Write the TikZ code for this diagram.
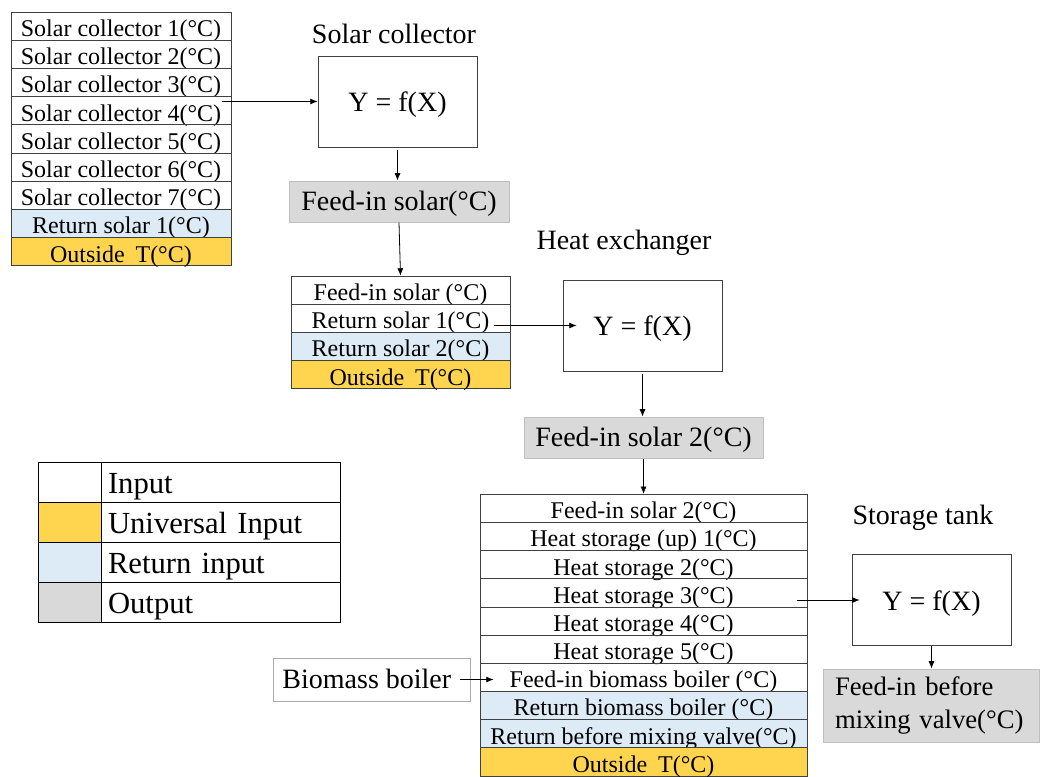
\documentclass[tikz,border=0pt]{standalone}
\usepackage{fontspec}
\setmainfont{Liberation Serif}
\usetikzlibrary{arrows.meta,calc}
\definecolor{uniY}{RGB}{255,213,79}
\definecolor{retB}{RGB}{221,235,247}
\definecolor{outG}{RGB}{217,217,217}
\definecolor{outBd}{RGB}{191,191,191}
\definecolor{bioBd}{RGB}{170,170,170}
\definecolor{lineC}{RGB}{64,64,64}
\newcommand{\tabfont}{\fontsize{18}{20}\selectfont}
\newcommand{\bigfont}{\fontsize{21}{22.5}\selectfont}
\newcommand{\legfont}{\fontsize{23}{25}\selectfont}
\newcommand{\twofont}{\fontsize{20}{24.75}\selectfont}
\begin{document}
\begin{tikzpicture}[x=0.75pt,y=-0.75pt,
  cell/.style={draw=lineC, line width=0.6pt, inner sep=0pt, minimum height=21.15pt, text height=16.5pt, text depth=1pt, font=\tabfont},
  tabA/.style={cell, minimum width=165pt},
  tabB/.style={cell, minimum width=164.25pt},
  tabC/.style={cell, minimum width=245.25pt, minimum height=21.13pt},
  ret/.style={fill=retB},
  uni/.style={fill=uniY},
  fbox/.style={draw=lineC, line width=0.6pt, minimum width=119.25pt, minimum height=68.25pt, text height=18pt, text depth=3pt, font=\bigfont, inner sep=0pt},
  outbox/.style={draw=outBd, fill=outG, line width=0.75pt, inner sep=0pt, minimum height=30.75pt, font=\bigfont},
  ttl/.style={font=\bigfont, inner sep=0pt},
  swatch/.style={draw=black, line width=0.75pt, minimum width=47.25pt, minimum height=30pt, inner sep=0pt},
  legtxt/.style={draw=black, line width=0.75pt, text width=168.75pt, inner xsep=5.25pt, inner ysep=0pt, align=left, minimum height=30pt, text height=19pt, text depth=3pt, font=\legfont},
  arr/.style={-{Latex[length=5.5pt,width=4.5pt]}, line width=0.6pt, draw=black}
]
\useasboundingbox (0,0) rectangle (1048,776);

% ---- Solar collector inputs
\node[tabA] (sc1) at (121,26.1) {Solar collector 1(°C)};
\node[tabA] (sc2) at (121,54.3) {Solar collector 2(°C)};
\node[tabA] (sc3) at (121,82.5) {Solar collector 3(°C)};
\node[tabA] (sc4) at (121,110.7) {Solar collector 4(°C)};
\node[tabA] (sc5) at (121,138.9) {Solar collector 5(°C)};
\node[tabA] (sc6) at (121,167.1) {Solar collector 6(°C)};
\node[tabA] (sc7) at (121,195.3) {Solar collector 7(°C)};
\node[tabA, ret] (sc8) at (121,223.5) {Return solar 1(°C)};
\node[tabA, uni] (sc9) at (121,251.7) {Outside\hspace{0.45em}T(°C)};

\node[ttl] (t1) at (394,34) {Solar collector};
\node[fbox] (f1) at (397.5,101.5) {Y = f(X)};
\node[outbox, minimum width=165pt, text height=16.5pt, text depth=2.5pt] (out1) at (399,201.5) {Feed-in solar(°C)};

% ---- Heat exchanger
\node[tabB] (t2a) at (400.5,290.1) {Feed-in solar (°C)};
\node[tabB] (t2b) at (400.5,318.3) {Return solar 1(°C)};
\node[tabB, ret] (t2c) at (400.5,346.5) {Return solar 2(°C)};
\node[tabB, uni] (t2d) at (400.5,374.7) {Outside\hspace{0.45em}T(°C)};

\node[ttl] (t2) at (624,243) {Heat exchanger};
\node[fbox] (f2) at (642.5,325.5) {Y = f(X)};
\node[outbox, minimum width=179.25pt, text height=16.5pt, text depth=2.5pt] (out2) at (643.5,437.5) {Feed-in solar 2(°C)};

% ---- Storage tank
\node[tabC] (t3a) at (643.5,508.4) {Feed-in solar 2(°C)};
\node[tabC] (t3b) at (643.5,536.6) {Heat storage (up) 1(°C)};
\node[tabC] (t3c) at (643.5,564.7) {Heat storage 2(°C)};
\node[tabC] (t3d) at (643.5,592.9) {Heat storage 3(°C)};
\node[tabC] (t3e) at (643.5,621.1) {Heat storage 4(°C)};
\node[tabC] (t3f) at (643.5,649.3) {Heat storage 5(°C)};
\node[tabC] (t3g) at (643.5,677.4) {Feed-in biomass boiler (°C)};
\node[tabC, ret] (t3h) at (643.5,705.6) {Return biomass boiler (°C)};
\node[tabC, ret] (t3i) at (643.5,733.8) {Return before mixing valve(°C)};
\node[tabC, uni] (t3j) at (643.5,761.9) {Outside\hspace{0.45em}T(°C)};

\node[ttl] (t3) at (923,518) {Storage tank};
\node[fbox] (f3) at (931.5,600) {Y = f(X)};
\node[outbox, minimum height=54.75pt, text width=144pt, inner xsep=9pt, align=left, font=\twofont] (out3) at (931,705.5) {Feed-in before\\mixing valve(°C)};

\node[draw=bioBd, line width=0.75pt, minimum width=147.75pt, minimum height=32.25pt, inner sep=0pt, text height=16pt, text depth=3pt, font=\bigfont] (bio) at (371.5,679.5) {Biomass boiler\hspace*{7pt}};

% ---- Legend
\node[swatch] (lg1s) at (69.5,482.7) {};
\node[swatch, fill=uniY] (lg2s) at (69.5,522.7) {};
\node[swatch, fill=retB] (lg3s) at (69.5,562.7) {};
\node[swatch, fill=outG] (lg4s) at (69.5,602.7) {};
\node[legtxt] (lg1t) at (220.5,482.7) {Input};
\node[legtxt] (lg2t) at (220.5,522.7) {Universal Input};
\node[legtxt] (lg3t) at (220.5,562.7) {Return input};
\node[legtxt] (lg4t) at (220.5,602.7) {Output};

% ---- Connectors
\coordinate (a1s) at ($(sc4.east |- f1.west)+(-9,0)$);
\draw[arr] (a1s) -- (f1.west);
\draw[arr, shorten <=2.25pt] (f1.south) -- (f1.south |- out1.north);
\draw[arr] (out1.south) -- (t2a.north);

\coordinate (a2s) at ($(t2b.east |- f2.west)+(-16,0)$);
\coordinate (a2e) at ($(f2.west)+(14,0)$);
\draw[arr] (a2s) -- (a2e);
\draw[arr, shorten <=2.25pt] (f2.south) -- (f2.south |- out2.north);
\draw[arr] (out2.south) -- (t3a.north);

\coordinate (a3s) at ($(t3d.east |- f3.west)+(-10,0)$);
\coordinate (a3e) at ($(f3.west)+(8,0)$);
\draw[arr] (a3s) -- (a3e);
\draw[arr] (f3.south) -- (f3.south |- out3.north);

\coordinate (a4s) at ($(bio.east)+(-11,0)$);
\coordinate (a4e) at ($(t3g.west |- bio.east)+(14,0)$);
\draw[arr] (a4s) -- (a4e);
\end{tikzpicture}
\end{document}
